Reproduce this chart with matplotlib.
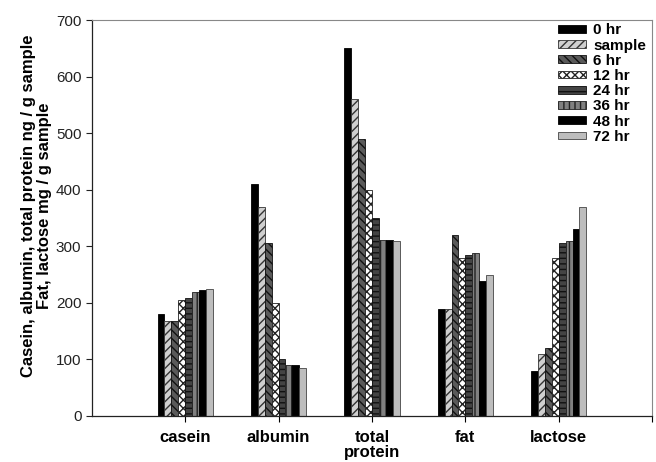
import numpy as np
import matplotlib
matplotlib.use("Agg")
import matplotlib.pyplot as plt

plt.rcParams["font.family"] = ["Liberation Sans", "DejaVu Sans"]

# Data
categories = ["casein", "albumin", "total\nprotein", "fat", "lactose"]
series_names = ["0 hr", "sample", "6 hr", "12 hr", "24 hr", "36 hr", "48 hr", "72 hr"]
v_0hr = [180, 410, 650, 189, 80]
v_sample = [168, 370, 560, 189, 110]
v_6hr = [168, 305, 490, 320, 120]
v_12hr = [205, 200, 400, 280, 279]
v_24hr = [209, 100, 350, 284, 305]
v_36hr = [219, 90, 311, 289, 310]
v_48hr = [222, 90, 311, 238, 330]
v_72hr = [224, 84, 309, 249, 370]
values = [v_0hr, v_sample, v_6hr, v_12hr, v_24hr, v_36hr, v_48hr, v_72hr]

# (facecolor, hatch, edgecolor) per series
styles = [
    ("black", None, "black"),
    ("#cfcfcf", "////", "#333333"),
    ("#5a5a5a", "\\\\\\\\", "#111111"),
    ("white", "xxxx", "#222222"),
    ("#444444", "---", "#111111"),
    ("#808080", "|||", "#222222"),
    ("black", None, "black"),
    ("#bdbdbd", None, "#444444"),
]

fig = plt.figure(figsize=(6.56, 4.62), dpi=100)
ax = fig.add_axes([0.140, 0.0996, 0.854, 0.857])

x = np.arange(1, len(categories) + 1)
width = 0.074
n = len(series_names)
for i, (name, vals) in enumerate(zip(series_names, values)):
    fc, hatch, ec = styles[i]
    offset = (i - (n - 1) / 2) * width
    ax.bar(x + offset, vals, width, label=name, color=fc, hatch=hatch,
           edgecolor=ec, linewidth=0.6)

ax.set_xlim(0, 6)
ax.set_ylim(0, 700)
ax.set_yticks(np.arange(0, 701, 100))
ax.set_xticks(x)
ax.set_xticklabels(categories, fontweight="bold", fontsize=12, linespacing=1.0)
ax.tick_params(axis="y", labelsize=11, colors="#222222", length=4, width=0.8)
ax.tick_params(axis="x", length=4, width=0.8, pad=6)
ax.set_xticks([6], minor=True)
ax.tick_params(axis="x", which="minor", length=4, width=0.8)

for side in ["top", "right"]:
    ax.spines[side].set_color("#888888")
    ax.spines[side].set_linewidth(0.8)
for side in ["left", "bottom"]:
    ax.spines[side].set_color("#222222")
    ax.spines[side].set_linewidth(0.9)

ax.set_ylabel("Casein, albumin, total protein ng / g sample\nFat, lactose mg / g sample",
              fontweight="bold", fontsize=12, linespacing=1.1)
ax.yaxis.set_label_coords(-0.071, 0.53)

leg = ax.legend(loc="upper left", bbox_to_anchor=(0.816, 1.015), frameon=False,
                prop={"weight": "bold", "size": 11}, handlelength=1.8,
                handleheight=0.4, labelspacing=0.08, handletextpad=0.5,
                borderaxespad=0.2)

fig.savefig("out.png", dpi=100)
